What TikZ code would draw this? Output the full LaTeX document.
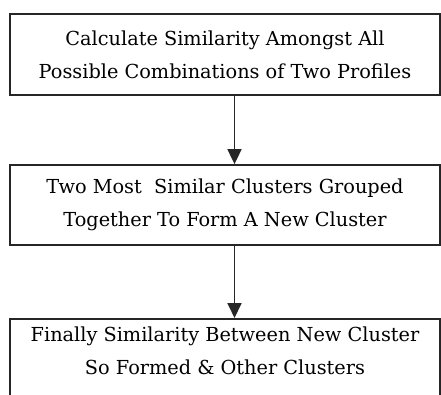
\documentclass[tikz,border=0pt]{standalone}
\usepackage{fontspec}
\setmainfont{DejaVu Serif}
\usetikzlibrary{arrows.meta}
\begin{document}
\begin{tikzpicture}[x=1pt,y=-1pt,
  boxstyle/.style={draw=black!85, line width=1.8pt, minimum width=430pt, inner sep=0pt, align=center,
    font=\fontsize{19.3}{33}\selectfont},
  lbl/.style={inner sep=0pt, align=center, font=\fontsize{19.3}{33}\selectfont},
  arr/.style={draw=black!85, line width=1.8pt, -{Triangle[width=14pt,length=15pt]}}]
\useasboundingbox (0,0) rectangle (441,394);
\clip (0,0) rectangle (441,394);
\node[boxstyle, minimum height=81pt] (b1) at (225,54.5) {Calculate Similarity Amongst All\\Possible Combinations of Two Profiles};
\node[boxstyle, minimum height=80pt] (b2) at (225,205) {Two Most\ \ Similar Clusters Grouped\\Together To Form A New Cluster};
\node[boxstyle, minimum height=120pt, anchor=north] (b3) at (225,318) {};
\node[lbl] (t3) at (225,351) {Finally Similarity Between New Cluster\\So Formed \& Other Clusters};
\draw[arr] (b1.south -| 234.5,0) -- (b2.north -| 234.5,0);
\draw[arr] (b2.south -| 234.5,0) -- (b3.north -| 234.5,0);
\end{tikzpicture}
\end{document}
